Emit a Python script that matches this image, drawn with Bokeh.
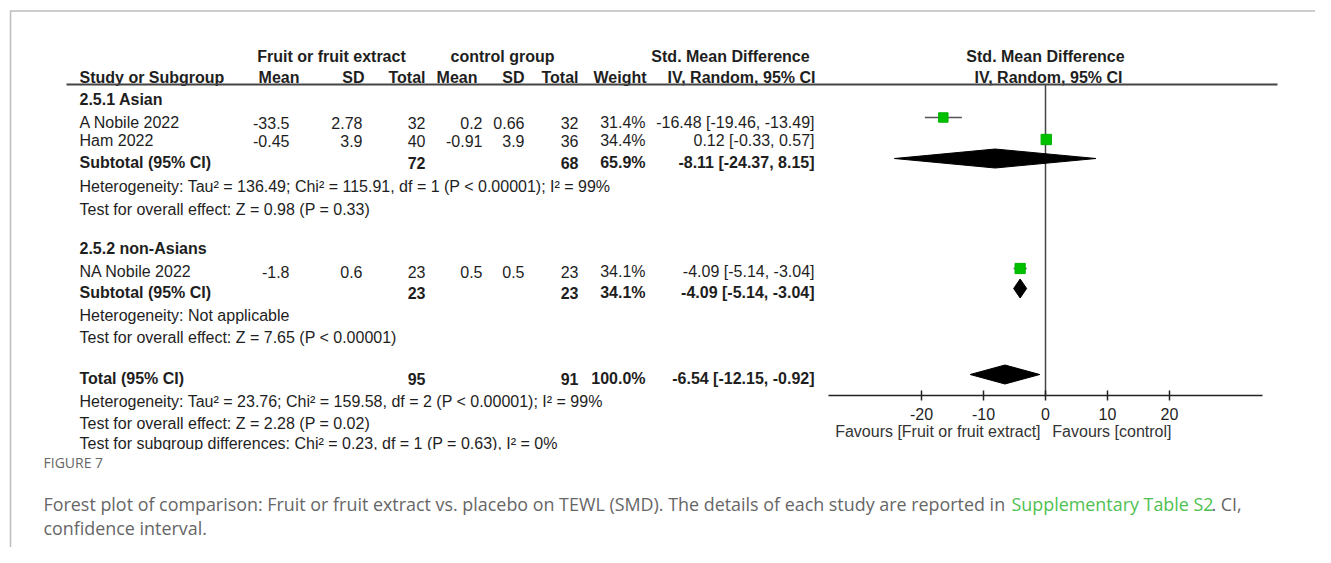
from bokeh.plotting import figure
from bokeh.models import Range1d, ColumnDataSource
from bokeh.core.properties import value
from bokeh.embed import file_html
from bokeh.resources import INLINE

# ---------------- data ----------------
studies = ["A Nobile 2022", "Ham 2022", "NA Nobile 2022"]
exp_mean = [-33.5, -0.45, -1.8]
exp_sd = [2.78, 3.9, 0.6]
exp_n = [32, 40, 23]
ctl_mean = [0.2, -0.91, 0.5]
ctl_sd = [0.66, 3.9, 0.5]
ctl_n = [32, 36, 23]
weight = [31.4, 34.4, 34.1]
smd = [-16.48, 0.12, -4.09]
ci_lo = [-19.46, -0.33, -5.14]
ci_hi = [-13.49, 0.57, -3.04]

groups = ["2.5.1 Asian", "2.5.2 non-Asians"]
sub_exp_n = [72, 23]
sub_ctl_n = [68, 23]
sub_weight = [65.9, 34.1]
sub_smd = [-8.11, -4.09]
sub_lo = [-24.37, -5.14]
sub_hi = [8.15, -3.04]
sub_het = ["Heterogeneity: Tau\u00b2 = 136.49; Chi\u00b2 = 115.91, df = 1 (P < 0.00001); I\u00b2 = 99%",
           "Heterogeneity: Not applicable"]
sub_test = ["Test for overall effect: Z = 0.98 (P = 0.33)",
            "Test for overall effect: Z = 7.65 (P < 0.00001)"]

tot_exp_n = 95
tot_ctl_n = 91
tot_weight = 100.0
tot_smd = -6.54
tot_lo = -12.15
tot_hi = -0.92
tot_lines = ["Heterogeneity: Tau\u00b2 = 23.76; Chi\u00b2 = 159.58, df = 2 (P < 0.00001); I\u00b2 = 99%",
             "Test for overall effect: Z = 2.28 (P = 0.02)",
             "Test for subgroup differences: Chi\u00b2 = 0.23, df = 1 (P = 0.63), I\u00b2 = 0%"]

axis_ticks = [-20, -10, 0, 10, 20]
axis_extent = [-35, 35]
fav_left = "Favours [Fruit or fruit extract]"
fav_right = "Favours [control]"

caption_label = "FIGURE 7"
caption_1a = "Forest plot of comparison: Fruit or fruit extract vs. placebo on TEWL (SMD). The details of each study are reported in "
caption_link = "Supplementary Table S2"
caption_1b = ". CI,"
caption_2 = "confidence interval."

# ---------------- layout ----------------
W, H = 1315, 547
ZERO_PX = 1045.0
PX_PER_UNIT = 6.2
FONT = "Liberation Sans"
FS = 16
TXT = "#1e1e1e"
LINE = "#444444"

p = figure(width=W, height=H, output_backend="svg", toolbar_location=None,
           x_range=Range1d(0, W), y_range=Range1d(H, 0),
           min_border=0, outline_line_color=None)
p.axis.visible = False
p.grid.visible = False
p.background_fill_color = "white"
p.border_fill_color = "white"
p.extra_x_ranges = {"smd": Range1d((0 - ZERO_PX) / PX_PER_UNIT, (W - ZERO_PX) / PX_PER_UNIT)}

def txt(x, y, s, align="left", bold=False, size=FS, color=TXT, font=FONT):
    p.text(x=[x], y=[y], text=[s], text_align=align, text_baseline="middle",
           text_font=value(font), text_font_size=f"{size}px",
           text_font_style="bold" if bold else "normal", text_color=color)

# frame lines
p.segment(x0=[10, 10], y0=[10.5, 10], x1=[W, 10], y1=[10.5, H], line_color="#bdbdbd", line_width=1.5)

# column right edges
C_MEAN, C_SD, C_TOT, C_CMEAN, C_CSD, C_CTOT, C_W, C_CI = 289, 362, 425, 482, 524, 578, 645, 814
X0 = 79

# header
txt(331, 56, "Fruit or fruit extract", "center", True)
txt(502, 56, "control group", "center", True)
txt(730, 56, "Std. Mean Difference", "center", True)
txt(1045, 56, "Std. Mean Difference", "center", True)
hy = 77
txt(X0, hy, "Study or Subgroup", bold=True)
txt(299, hy, "Mean", "right", True)
txt(C_SD + 2, hy, "SD", "right", True)
txt(C_TOT, hy, "Total", "right", True)
txt(477, hy, "Mean", "right", True)
txt(C_CSD, hy, "SD", "right", True)
txt(C_CTOT, hy, "Total", "right", True)
txt(646, hy, "Weight", "right", True)
txt(741, hy, "IV, Random, 95% CI", "center", True)
txt(1048, hy, "IV, Random, 95% CI", "center", True)
p.segment(x0=[66], y0=[84], x1=[1277], y1=[84], line_color=LINE, line_width=2)

def fmt(v):
    return f"{v:g}"

def ci_text(m, lo, hi):
    return f"{m:.2f} [{lo:.2f}, {hi:.2f}]"

group_title_y = [99, 248]
study_y = [122, 140, 271]
sub_y = [162, 292]
sub_het_y = [186, 315]
sub_test_y = [209, 337]
tot_y = 378
tot_line_y = [401, 423, 443]

study_mark_y = [117, 139, 268]
sub_mark_y = [158, 288]
tot_mark_y = 374
DIAMOND_H = 9.5

for g in range(2):
    txt(X0, group_title_y[g], groups[g], bold=True)
    txt(X0, sub_y[g], "Subtotal (95% CI)", bold=True)
    txt(C_TOT, sub_y[g], str(sub_exp_n[g]), "right", True)
    txt(C_CTOT, sub_y[g], str(sub_ctl_n[g]), "right", True)
    txt(C_W, sub_y[g], f"{sub_weight[g]:.1f}%", "right", True)
    txt(C_CI, sub_y[g], ci_text(sub_smd[g], sub_lo[g], sub_hi[g]), "right", True)
    txt(X0, sub_het_y[g], sub_het[g])
    txt(X0, sub_test_y[g], sub_test[g])

for i, s in enumerate(studies):
    y = study_y[i]
    txt(X0, y, s)
    txt(C_MEAN, y, fmt(exp_mean[i]), "right")
    txt(C_SD, y, fmt(exp_sd[i]), "right")
    txt(C_TOT, y, str(exp_n[i]), "right")
    txt(C_CMEAN, y, fmt(ctl_mean[i]), "right")
    txt(C_CSD, y, fmt(ctl_sd[i]), "right")
    txt(C_CTOT, y, str(ctl_n[i]), "right")
    txt(C_W, y, f"{weight[i]:.1f}%", "right")
    txt(C_CI, y, ci_text(smd[i], ci_lo[i], ci_hi[i]), "right")

txt(X0, tot_y, "Total (95% CI)", bold=True)
txt(C_TOT, tot_y, str(tot_exp_n), "right", True)
txt(C_CTOT, tot_y, str(tot_ctl_n), "right", True)
txt(C_W, tot_y, f"{tot_weight:.1f}%", "right", True)
txt(C_CI, tot_y, ci_text(tot_smd, tot_lo, tot_hi), "right", True)
for s, y in zip(tot_lines, tot_line_y):
    txt(X0, y, s)
# the source image is cut just below the last line
p.quad(left=[60], right=[720], top=[449.5], bottom=[456], fill_color="white", line_color=None)

# ---------------- forest plot ----------------
AXIS_Y = 395
p.segment(x0=[0], x1=[0], y0=[84], y1=[AXIS_Y], x_range_name="smd", line_color=LINE, line_width=1.5)

src = ColumnDataSource(dict(smd=smd, lo=ci_lo, hi=ci_hi, y=study_mark_y,
                            size=[w * 0.3 for w in weight]))
p.segment(x0="lo", x1="hi", y0="y", y1="y", source=src, x_range_name="smd",
          line_color="#555555", line_width=1.5)
p.scatter(x="smd", y="y", size="size", marker="square", source=src, x_range_name="smd",
          fill_color="#00c000", line_color="#00b000")

dxs, dys = [], []
for g in range(2):
    y = sub_mark_y[g]
    dxs.append([sub_lo[g], sub_smd[g], sub_hi[g], sub_smd[g]])
    dys.append([y, y - DIAMOND_H, y, y + DIAMOND_H])
dxs.append([tot_lo, tot_smd, tot_hi, tot_smd])
dys.append([tot_mark_y, tot_mark_y - DIAMOND_H, tot_mark_y, tot_mark_y + DIAMOND_H])
p.patches(xs=dxs, ys=dys, x_range_name="smd", fill_color="black", line_color="black")

p.segment(x0=[axis_extent[0]], x1=[axis_extent[1]], y0=[AXIS_Y], y1=[AXIS_Y],
          x_range_name="smd", line_color="#222222", line_width=1.5)
p.segment(x0=axis_ticks, x1=axis_ticks, y0=[AXIS_Y - 5] * len(axis_ticks), y1=[AXIS_Y + 5] * len(axis_ticks),
          x_range_name="smd", line_color="#222222", line_width=1.5)
p.text(x=axis_ticks, y=[413] * len(axis_ticks), text=[str(t) for t in axis_ticks], x_range_name="smd",
       text_align="center", text_baseline="middle", text_font=value(FONT), text_font_size=f"{FS}px",
       text_color=TXT)
p.text(x=[-0.8], y=[431], text=[fav_left], x_range_name="smd", text_align="right", text_baseline="middle",
       text_font=value(FONT), text_font_size=f"{FS}px", text_color="#333333")
p.text(x=[1.1], y=[431], text=[fav_right], x_range_name="smd", text_align="left", text_baseline="middle",
       text_font=value(FONT), text_font_size=f"{FS}px", text_color="#333333")

# ---------------- caption ----------------
CAP_FONT = "Open Sans"
CAP_COL = "#666666"
CAP_FS = 17.9
txt(43, 462, caption_label, size=14, color=CAP_COL, font=CAP_FONT)
txt(43, 503, caption_1a, size=CAP_FS, color=CAP_COL, font=CAP_FONT)
txt(1011, 503, caption_link, size=CAP_FS, color="#4fbf50", font=CAP_FONT)
txt(1211, 503, caption_1b, size=CAP_FS, color=CAP_COL, font=CAP_FONT)
txt(43, 527, caption_2, size=CAP_FS, color=CAP_COL, font=CAP_FONT)

open("out.html", "w").write(file_html(p, INLINE))
